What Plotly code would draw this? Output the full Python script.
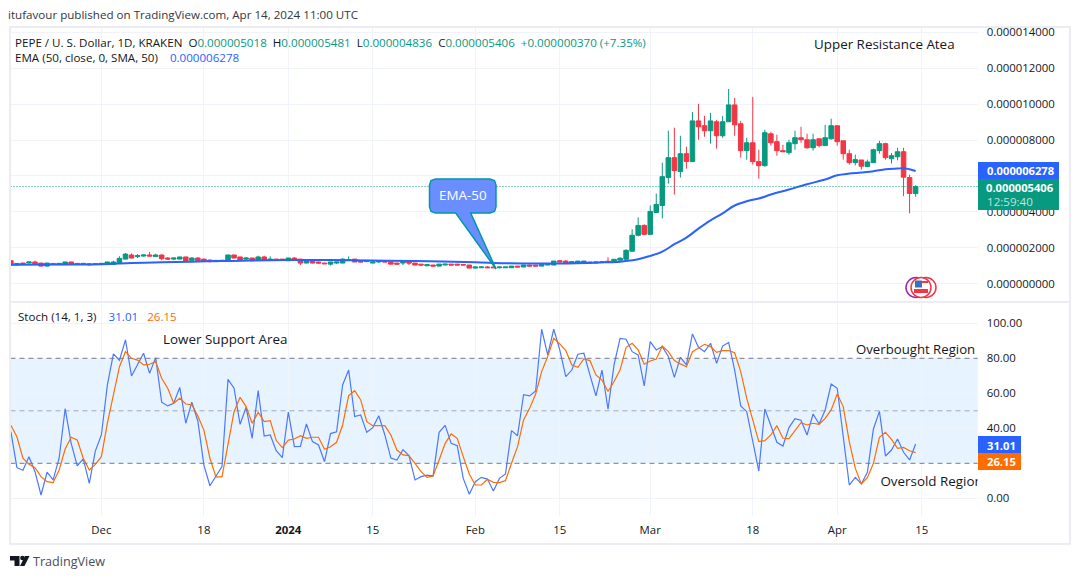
import pandas as pd
import plotly.graph_objects as go
from plotly.subplots import make_subplots

W = 1080
H = 579

# daily candles Nov 16 2023 - Apr 14 2024, in millionths of a dollar
opens = [1.27,1.03,1.14,1.14,1.20,1.14,0.97,1.12,1.07,1.07,1.20,1.12,1.07,1.10,1.07,
    1.07,1.07,1.07,1.12,1.36,1.59,1.50,1.53,1.59,1.50,1.59,1.42,1.36,1.36,1.48,1.29,1.42,1.36,1.31,1.22,1.25,1.27,1.59,1.48,1.36,1.42,1.29,1.48,1.29,1.36,1.36,
    1.27,1.42,1.36,1.14,1.29,1.20,1.14,1.08,1.14,1.14,1.31,1.36,1.25,1.22,1.14,1.20,1.25,1.20,1.14,1.14,1.20,1.14,1.08,0.99,1.03,0.97,1.03,1.08,1.08,1.06,1.03,
    0.86,0.88,0.92,0.92,0.88,0.88,0.88,0.97,0.92,1.03,1.03,0.97,1.03,1.03,1.27,1.25,1.14,1.14,1.17,1.20,1.14,1.16,1.24,1.20,1.30,1.35,1.80,2.69,3.24,
    2.74,3.96,4.35,5.91,7.02,6.24,7.24,6.80,9.07,8.80,8.52,9.02,8.24,9.02,9.96,8.91,7.41,7.85,6.80,6.57,8.35,7.91,7.41,7.30,7.80,8.13,8.02,7.57,8.07,7.69,8.07,
    8.80,7.96,7.24,6.74,6.89,6.52,6.74,7.41,7.80,6.96,7.07,7.35,5.91,5.018]
closes = [1.03,1.12,1.07,1.20,1.10,0.97,1.14,1.07,1.12,1.20,1.07,1.07,1.12,1.05,1.10,
    1.12,1.20,1.20,1.40,1.64,1.42,1.55,1.59,1.53,1.59,1.38,1.36,1.42,1.48,1.25,1.42,1.27,1.25,1.22,1.29,1.29,1.59,1.42,1.29,1.42,1.27,1.48,1.29,1.36,1.29,1.29,
    1.42,1.29,1.14,1.29,1.14,1.14,1.10,1.20,1.20,1.36,1.33,1.20,1.20,1.25,1.20,1.25,1.20,1.08,1.08,1.20,1.14,1.03,1.03,1.05,0.97,1.08,1.08,1.03,1.03,1.03,0.86,
    0.92,0.92,0.88,0.88,0.92,0.92,0.97,0.92,1.03,0.97,0.97,1.08,1.08,1.25,1.20,1.14,1.22,1.25,1.25,1.14,1.20,1.20,1.19,1.35,1.41,1.85,2.69,3.24,2.74,
    4.02,4.41,5.96,7.02,6.30,7.24,6.80,9.07,8.74,8.52,9.07,8.24,9.02,9.96,8.85,7.41,7.85,6.80,6.57,8.41,7.85,7.41,7.35,7.85,8.13,8.02,7.57,8.02,7.69,8.13,8.80,
    7.91,7.24,6.74,6.91,6.54,6.78,7.46,7.80,7.02,7.13,7.35,5.93,5.02,5.406]
highs = [1.28,1.14,1.15,1.21,1.27,1.15,1.15,1.13,1.13,1.21,1.21,1.13,1.13,1.14,1.11,
    1.13,1.21,1.27,1.52,1.70,1.68,1.64,1.60,1.76,1.66,1.62,1.47,1.43,1.49,1.49,1.47,1.47,1.38,1.32,1.30,1.30,1.60,1.60,1.49,1.47,1.43,1.55,1.55,1.52,1.37,1.37,
    1.43,1.47,1.37,1.30,1.30,1.21,1.15,1.21,1.21,1.40,1.51,1.37,1.26,1.26,1.21,1.26,1.26,1.21,1.15,1.21,1.26,1.15,1.09,1.06,1.04,1.09,1.09,1.09,1.09,1.07,1.04,
    0.93,0.96,0.97,0.93,0.93,0.93,0.98,0.98,1.04,1.04,1.04,1.09,1.09,1.26,1.31,1.30,1.23,1.26,1.26,1.21,1.21,1.24,1.46,1.36,1.46,1.91,3.02,3.69,3.30,
    4.35,5.02,6.74,8.52,8.69,8.24,7.63,9.57,10.02,9.35,9.52,9.13,9.35,10.85,10.35,9.07,8.13,10.41,7.46,8.57,8.46,8.30,7.74,8.02,8.52,8.74,8.35,8.35,8.07,8.85,9.19,
    8.80,7.96,7.46,7.19,6.89,6.91,7.52,7.96,7.85,7.28,7.57,7.57,6.07,5.481]
lows = [1.02,1.02,1.06,1.13,1.09,0.96,0.96,1.06,1.06,1.06,1.06,1.06,1.06,0.99,1.06,
    1.06,1.06,1.05,1.10,1.35,1.40,1.42,1.50,1.52,1.49,1.30,1.35,1.30,1.35,1.24,1.28,1.26,1.22,1.18,1.21,1.24,1.26,1.41,1.28,1.30,1.26,1.28,1.25,1.28,1.28,1.28,
    1.26,1.28,1.03,1.13,1.13,1.08,1.09,1.00,1.08,1.13,1.28,1.19,1.19,1.21,1.13,1.16,1.19,1.07,1.07,1.03,1.03,1.02,0.97,0.98,0.96,0.96,1.02,1.02,1.02,1.02,0.85,
    0.85,0.87,0.87,0.87,0.84,0.87,0.87,0.91,0.91,0.96,0.96,0.96,1.02,1.02,1.19,1.13,1.13,1.13,1.16,1.13,1.13,1.15,1.17,1.19,1.29,1.34,1.79,2.63,2.69,
    2.74,3.96,3.63,5.57,4.96,5.91,6.41,6.80,8.02,8.19,7.80,7.52,8.13,9.02,8.24,7.02,6.91,6.63,5.85,6.52,7.69,7.13,7.35,7.19,7.46,7.85,7.52,7.41,7.59,7.69,8.02,
    7.69,6.91,6.63,6.59,6.35,6.52,6.74,7.24,6.91,6.69,6.87,4.87,3.91,4.836]

ema_dates = ["2023-11-16","2023-11-26","2023-12-01","2023-12-06","2023-12-11","2023-12-16","2023-12-21","2023-12-26",
    "2024-01-01","2024-01-08","2024-01-15","2024-01-22","2024-02-01","2024-02-06","2024-02-15","2024-02-22","2024-02-25","2024-02-28",
    "2024-03-01","2024-03-03","2024-03-05","2024-03-07","2024-03-09","2024-03-11","2024-03-13","2024-03-15","2024-03-17","2024-03-19",
    "2024-03-21","2024-03-24","2024-03-27","2024-03-30","2024-04-01","2024-04-03","2024-04-05","2024-04-07","2024-04-09","2024-04-11","2024-04-12","2024-04-13","2024-04-14"]
ema_values = [1.05,1.06,1.08,1.14,1.19,1.22,1.25,1.28,1.31,1.31,1.28,1.25,1.18,1.13,1.12,1.18,1.22,1.35,
    1.54,1.78,2.19,2.56,3.06,3.52,3.91,4.35,4.59,4.74,4.96,5.24,5.54,5.80,6.04,6.13,6.19,6.26,6.37,6.41,6.43,6.37,6.278]

stoch_k = [38.1,17.5,16,23.8,15.2,1.9,14.9,10.5,22.9,51.2,31.4,18.5,22.5,8.6,27,
    36.2,64.8,82.5,78.9,90.5,69.9,76.2,82.9,71.4,80.4,54.9,52.8,54.3,63.4,42.9,54.9,44.2,19,7.2,12.4,18.1,68,62.9,42.3,52,34.3,61.5,35.6,36.2,27.2,23.2,
    49.3,29.5,29.7,42.5,32.4,30.5,21,37,38,
    64.8,73.3,46.7,47.6,37.7,40.4,47.2,36.2,23,21.9,27.8,24.4,10.5,12.4,13.3,12.8,37.7,41.7,31.4,30.1,11.4,2.3,
    9.5,12,11,4.2,11.4,13.9,38.7,35.8,59.2,58.5,61.3,96.6,81.9,96.6,84.8,69.5,73.3,82.3,82.9,70.5,58.5,73.3,50.9,76.2,91.4,90.9,83.8,81.9,64.2,
    89.5,84.8,86.7,81,69.1,80.6,
    76.2,93.9,86.3,83.8,88.6,77.1,87,89.1,73.3,52.8,49.5,32.4,15.6,51,41.9,32,29.9,40.4,45.5,44.6,36.2,48.2,42.5,50.5,65.3,
    62.9,35.2,7.6,12,8.2,14.9,39.6,49.7,24.2,27.6,33.9,26.3,21.9,31.01]
stoch_d = [41.7,35.2,22.9,19.4,17.5,12.4,9.5,9,16.2,28.2,34.9,33.3,22.9,16.2,19.4,
    23.8,42.9,60,75.2,83.8,80,79,76.2,76.6,78.1,68.6,62.9,54.3,57.1,53.9,53.5,47,39,22.9,12.2,12.2,31.4,49.5,57.7,52.4,42.9,49.1,43.8,44.4,33,29,
    33.3,33.9,35.8,34.3,34.9,34.9,28,29.5,32,
    41.9,58.7,61.5,56.2,43.8,41.5,41.5,41.5,36.2,27.6,24.8,24.4,20,15.2,12,12.8,21.9,31.4,36.8,34.3,23.8,13.9,
    7.6,7.6,10.9,9.1,9,10.1,20,29.5,44.8,51.4,59.6,72.4,81,91.4,88.2,84.4,76.2,74.9,79.6,78.7,70.5,67.6,61,66.7,73.3,86.3,88.6,84.8,76.6,
    78.5,79.6,87,83.8,78.7,76.8,
    75.2,83.8,85.7,88,86.7,83.4,84.4,84.4,83.2,72.4,57.1,44.8,32.4,33,36.2,41.5,34.3,34.1,38.5,43.2,41.9,42.9,42.3,45.7,50.5,
    59.6,52.4,32.4,17.1,8.2,11.8,20,34.9,37.7,33.7,28.6,29.1,27.2,26.15]

dates = pd.date_range("2023-11-16", "2024-04-14", freq="D")

x_ticks = ["2023-12-01","2023-12-18","2024-01-01","2024-01-15","2024-02-01","2024-02-15","2024-03-01","2024-03-18","2024-04-01","2024-04-15"]
x_labels = ["Dec","18","<b>2024</b>","15","Feb","15","Mar","18","Apr","15"]
price_ticks = [0,2,4,6,8,10,12,14]
# the 6 label sits behind the price tags
price_labels = ["0.000000000","0.000002000","0.000004000","","0.000008000","0.000010000","0.000012000","0.000014000"]
stoch_ticks = [0,40,60,80,100]

GREEN = "#089981"
RED = "#F23645"
BLUE = "#2962FF"
ORANGE = "#FF6D00"
INK = "#131722"
GRID = "#F0F3FA"
FONT = "Open Sans"

def px(x):
    return x / W

def py(y):
    return 1 - y / H

def box(x0, y0, x1, y1, fill, line=None):
    return dict(type="rect", xref="paper", yref="paper", x0=px(x0), x1=px(x1), y0=py(y0), y1=py(y1),
                fillcolor=fill, line=dict(width=0 if line is None else 1, color=line or fill))

def path(pts, fill, line=None, width=1):
    d = "M " + " L ".join(f"{px(a):.5f},{py(b):.5f}" for a, b in pts) + " Z"
    return dict(type="path", xref="paper", yref="paper", path=d, fillcolor=fill,
                line=dict(width=width if line else 0, color=line or fill))

def circle(cx, cy, r, line, fill="rgba(0,0,0,0)"):
    return dict(type="circle", xref="paper", yref="paper", x0=px(cx-r), x1=px(cx+r), y0=py(cy-r), y1=py(cy+r),
                fillcolor=fill, line=dict(width=1.5, color=line))

def label(x, y, text, size=11.6, color=INK, anchor="left"):
    return dict(xref="paper", yref="paper", x=px(x), y=py(y), text=text, showarrow=False, xanchor=anchor, yanchor="middle",
                font=dict(size=size, color=color, family=FONT), borderpad=0, borderwidth=0)

def green(s):
    return f'<span style="color:{GREEN}">{s}</span>'

fig = make_subplots(rows=2, cols=1, shared_xaxes=False)

fig.add_trace(go.Candlestick(x=dates,
    open=[v*1e-6 for v in opens], high=[v*1e-6 for v in highs], low=[v*1e-6 for v in lows], close=[v*1e-6 for v in closes],
    increasing=dict(line=dict(color=GREEN, width=1), fillcolor=GREEN),
    decreasing=dict(line=dict(color=RED, width=1), fillcolor=RED),
    whiskerwidth=0, showlegend=False), row=1, col=1)
fig.add_trace(go.Scatter(x=ema_dates, y=[v*1e-6 for v in ema_values], mode="lines",
    line=dict(color=BLUE, width=2, shape="spline"), showlegend=False), row=1, col=1)

fig.add_trace(go.Scatter(x=dates, y=stoch_k, mode="lines", line=dict(color="#4A78FF", width=1.2), showlegend=False), row=2, col=1)
fig.add_trace(go.Scatter(x=dates, y=stoch_d, mode="lines", line=dict(color=ORANGE, width=1.2), showlegend=False), row=2, col=1)
# the last letter of this note is cut off by the pane edge in the original
fig.add_trace(go.Scatter(x=["2024-04-08 04:00"], y=[8.9], mode="text", text=["Oversold Region"], textposition="middle right",
    textfont=dict(size=13.4, color=INK, family=FONT), cliponaxis=True, showlegend=False), row=2, col=1)

x_range = ["2023-11-15 22:30", "2024-04-24 07:00"]
axis_font = dict(size=11.4, color=INK, family=FONT)
fig.update_xaxes(range=x_range, tickmode="array", tickvals=x_ticks, ticktext=x_labels, showgrid=True, gridcolor=GRID, gridwidth=1,
    zeroline=False, showline=False, ticks="", rangeslider_visible=False, tickfont=axis_font)
fig.update_layout(
    xaxis=dict(domain=[px(10.5), px(977.7)], showticklabels=False, anchor="y"),
    xaxis2=dict(domain=[px(10.5), px(977.7)], anchor="y2", ticklabelstandoff=6),
    yaxis=dict(domain=[py(301), py(28)], side="right", range=[-0.976e-6, 14.25e-6], tickmode="array",
        tickvals=[v*1e-6 for v in price_ticks], ticktext=price_labels, showgrid=True, gridcolor=GRID, zeroline=False,
        ticklabelstandoff=8, tickfont=axis_font, anchor="x"),
    yaxis2=dict(domain=[py(516), py(303)], side="right", range=[-10.1, 111.6], tickmode="array", tickvals=stoch_ticks,
        tickformat=".2f", showgrid=True, gridcolor=GRID, zeroline=False, ticklabelstandoff=8, tickfont=axis_font, anchor="x2"),
)

shapes = []
# stochastic band and levels
shapes.append(dict(type="rect", xref="x2 domain", yref="y2", x0=0, x1=1, y0=20, y1=80, fillcolor="rgba(33,150,243,0.11)", line_width=0, layer="below"))
for level, colour in [(80, "#787B86"), (50, "rgba(120,123,134,0.6)"), (20, "#787B86")]:
    shapes.append(dict(type="line", xref="x2 domain", yref="y2", x0=0, x1=1, y0=level, y1=level, line=dict(color=colour, width=1, dash="5px,4px")))
# last price line
shapes.append(dict(type="line", xref="x domain", yref="y", x0=0, x1=1, y0=closes[-1]*1e-6, y1=closes[-1]*1e-6, line=dict(color=GREEN, width=1, dash="1px,2px")))
# frame
frame = "#EBEDF3"
shapes.append(dict(type="rect", xref="paper", yref="paper", x0=px(10), x1=px(1070), y0=py(544), y1=py(27), line=dict(color=frame, width=2)))
shapes.append(dict(type="line", xref="paper", yref="paper", x0=px(10), x1=px(1070), y0=py(302), y1=py(302), line=dict(color=frame, width=2)))
# price tags
shapes.append(box(978, 162, 1059, 179, BLUE))
shapes.append(box(978, 179, 1059, 210, GREEN))
shapes.append(box(978, 436, 1021, 453, BLUE))
shapes.append(box(978, 453, 1021, 470, ORANGE))
# EMA-50 callout
r = 6
shapes.append(path([(429.5+r,179),(496-r,179),(494.5,180.5),(496,179+r),(496,213-r),(494.5,211.5),(496-r,213),(470.7,213),(496,269),(455.7,213),
    (429.5+r,213),(431,211.5),(429.5,213-r),(429.5,179+r),(431,180.5)], "#6A8EFF", "#0097A7", 1.5))
# flag icon
shapes.append(circle(916, 287.5, 10, "#9C27B0", "#FFFFFF"))
shapes.append(circle(926, 287.5, 10, RED, "#FFFFFF"))
shapes.append(circle(921, 287.5, 10, RED, "#FFFFFF"))
shapes.append(box(915, 281, 928, 283, RED))
shapes.append(box(914, 289, 928, 293, RED))
shapes.append(box(915, 280.5, 922, 287.5, "#3F6FB5"))
# TradingView logo
shapes.append(path([(10,556),(19.5,556),(19.5,566),(14.5,566),(14.5,560.5),(10,560.5)], "#131722"))
shapes.append(circle(22.5, 558, 1.6, "#131722", "#131722"))
shapes.append(path([(25,556),(29.5,556),(24.5,566),(20,566)], "#131722"))

annotations = [
    label(8, 15, "itufavour published on TradingView.com, Apr 14, 2024 11:00 UTC", 11.6, "#333740"),
    label(15, 42, "PEPE / U. S. Dollar, 1D, KRAKEN  O" + green("0.000005018") + "  H" + green("0.000005481") + "  L" + green("0.000004836")
          + "  C" + green("0.000005406") + "  " + green("+0.000000370 (+7.35%)")),
    label(15, 58, f'EMA (50, close, 0, SMA, 50)    <span style="color:{BLUE}">0.000006278</span>'),
    label(18, 316, f'Stoch (14, 1, 3)    <span style="color:{BLUE}">31.01</span>   <span style="color:{ORANGE}">26.15</span>'),
    label(814, 44, "Upper Resistance Atea", 13.4),
    label(163, 339, "Lower Support Area", 13.4),
    label(856, 349, "Overbought Region", 13.2),
    label(463, 195, "EMA-50", 13.4, "#FFFFFF", "center"),
    label(1020, 171, "<b>0.000006278</b>", 11.2, "#FFFFFF", "center"),
    label(1020, 187, "<b>0.000005406</b>", 11.2, "#FFFFFF", "center"),
    label(1010, 201, "12:59:40", 11.6, "rgba(255,255,255,0.75)", "center"),
    label(1001, 445, "<b>31.01</b>", 11.2, "#FFFFFF", "center"),
    label(1001, 462, "<b>26.15</b>", 11.2, "#FFFFFF", "center"),
    label(33, 561, "TradingView", 12.6, "#4A4E58"),
]

fig.update_layout(width=W, height=H, margin=dict(l=0, r=0, t=0, b=0, autoexpand=False), paper_bgcolor="white", plot_bgcolor="white",
    shapes=shapes, annotations=annotations, showlegend=False, hovermode=False, font=dict(family=FONT),
    boxgap=0.25, boxgroupgap=0)

fig.write_html("out.html", config=dict(displayModeBar=False),
    post_script="document.body.style.margin='0';document.body.style.overflow='hidden';")
